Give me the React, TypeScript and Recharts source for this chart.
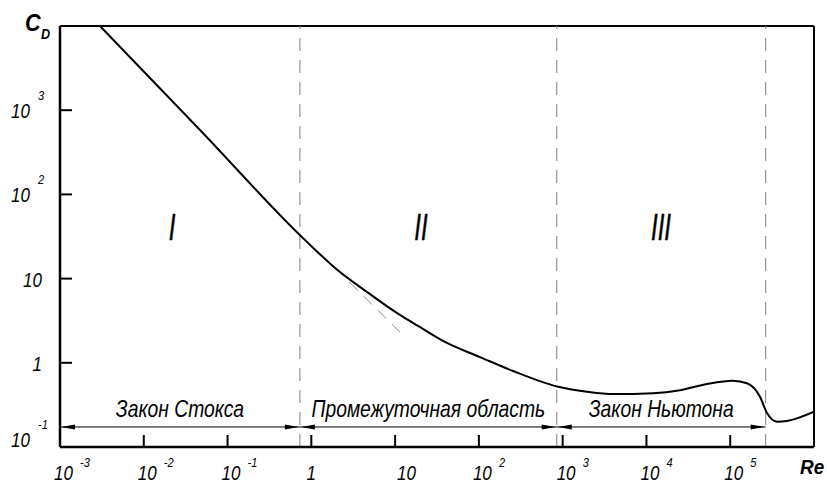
import React from 'react';
import { LineChart, Line, XAxis, YAxis, ReferenceLine, ReferenceDot } from 'recharts';

// Drag coefficient curve C_D(Re)
const RE = [0.003, 0.0469, 0.84, 1.92, 4.62, 11.4, 18.8, 41.6, 103, 255, 855, 1950, 3990, 11970, 25140, 52800, 107900, 158500, 226600, 274800, 361500, 475900, 1000000];
const CD = [10000, 582, 28.7, 13.4, 6.93, 3.7, 2.74, 1.72, 1.17, 0.8, 0.523, 0.454, 0.426, 0.436, 0.472, 0.56, 0.613, 0.571, 0.396, 0.253, 0.2, 0.204, 0.263];

// Stokes law continued into zone II (dashed)
const ASYM_RE = [1.92, 11.4];
const ASYM_CD = [13.4, 2.32];

const X_TICKS = [1e-3, 1e-2, 1e-1, 1, 10, 100, 1e3, 1e4, 1e5];
const Y_TICKS = [0.1, 1, 10, 100, 1000];

// zone boundaries on Re
const BOUNDS = [1e-3, 0.73, 850, 265000];
const ZONE_NAMES = ['Закон Стокса', 'Промежуточная область', 'Закон Ньютона'];
const ZONE_NUMS = ['I', 'II', 'III'];
const NUM_RE = [0.0217, 20.4, 14920];
const NUM_CD = 41;
const ARROW_CD = 0.173;

const curve = RE.map((re, i) => ({ re, cd: CD[i] }));
const asym = ASYM_RE.map((re, i) => ({ re, cd: ASYM_CD[i] }));

const FONT = '"Liberation Sans", Arial, sans-serif';

const expOf = (v: number) => Math.round(Math.log10(v));

// condensed italic text, like the narrow font of the original drawing
const NText = ({ x, y, size, sx = 0.85, anchor = 'start', bold = false, children }: any) => (
    <text
        transform={`translate(${x},${y}) scale(${sx},1)`}
        textAnchor={anchor}
        fontSize={size}
        fontStyle="italic"
        fontWeight={bold ? 'bold' : 'normal'}
        fontFamily={FONT}
        fill="#000"
    >
        {children}
    </text>
);

const XTick = (props: any) => {
    const { x, y, payload } = props;
    const e = expOf(payload.value);
    let label;
    if (e === 0) {
        label = <NText x={x} y={y + 33} size={20} anchor="middle">1</NText>;
    } else if (e === 1) {
        label = <NText x={x + 2} y={y + 33} size={20}>10</NText>;
    } else {
        label = (
            <>
                <NText x={x - 6} y={y + 33} size={20}>10</NText>
                <NText x={x + 20} y={y + 20} size={13}>{e}</NText>
            </>
        );
    }
    return (
        <g>
            {e !== -3 && <line x1={x} y1={y} x2={x} y2={y - 12} stroke="#000" strokeWidth={2} />}
            {label}
        </g>
    );
};

const YTick = (props: any) => {
    const { x, y, payload } = props;
    const e = expOf(payload.value);
    const shift = e === -1 ? -8 : 0;
    let label;
    if (e === 0 || e === 1) {
        label = <NText x={x - 18} y={y + 8} size={20} anchor="end">{e === 0 ? '1' : '10'}</NText>;
    } else {
        label = (
            <>
                <NText x={x - 49} y={y + 8 + shift} size={20}>10</NText>
                <NText x={x - 22} y={y - 10 + shift} size={13}>{e}</NText>
            </>
        );
    }
    return (
        <g>
            {e !== -1 && <line x1={x} y1={y} x2={x + 12} y2={y} stroke="#000" strokeWidth={2} />}
            {label}
        </g>
    );
};

const arrowShape = (text: string) => (p: any) => {
    const { x1, y1, x2 } = p;
    const L = 15, W = 2.5;
    return (
        <g>
            <line x1={x1} y1={y1} x2={x2} y2={y1} stroke="#000" strokeWidth={1} />
            <polygon points={`${x1 + 1},${y1} ${x1 + L},${y1 - W} ${x1 + L},${y1 + W}`} fill="#000" />
            <polygon points={`${x2 - 1},${y1} ${x2 - L},${y1 - W} ${x2 - L},${y1 + W}`} fill="#000" />
            <NText x={(x1 + x2) / 2} y={y1 - 10} size={23} sx={0.84} anchor="middle">{text}</NText>
        </g>
    );
};

const numShape = (text: string) => (p: any) => (
    <g transform={`translate(${p.cx},${p.cy}) scale(0.65,1)`}>
        <text x={0} y={13} textAnchor="middle" fontSize={37} fontStyle="italic" fontFamily={FONT} fill="#000" stroke="#000" strokeWidth={0.5}>{text}</text>
    </g>
);

const CdLabel = (p: any) => {
    const vb = p.viewBox || { x: 0, y: 26 };
    return (
        <g>
            <NText x={vb.x + 25} y={vb.y + 5} size={24} sx={0.9} bold>C</NText>
            <NText x={vb.x + 41} y={vb.y + 13} size={14} sx={0.9} bold>D</NText>
        </g>
    );
};

const ReLabel = (p: any) => {
    const vb = p.viewBox || { x: 60, y: 447, width: 754 };
    return <NText x={vb.x + vb.width - 14} y={vb.y + 27} size={21} sx={0.9} bold>Re</NText>;
};

export default function App() {
    return (
        <div style={{ position: 'absolute', left: 0, top: 0, width: 827, height: 483, background: '#fff' }}>
            <LineChart width={827} height={483} margin={{ top: 26, right: 13, bottom: 0, left: 0 }}>
                <XAxis
                    dataKey="re"
                    type="number"
                    scale="log"
                    domain={[1e-3, 1e6]}
                    ticks={X_TICKS}
                    interval={0}
                    allowDataOverflow
                    tickSize={0}
                    tickMargin={0}
                    tickLine={false}
                    axisLine={{ stroke: '#000', strokeWidth: 2.5 }}
                    height={36}
                    tick={<XTick />}
                    label={{ content: <ReLabel /> }}
                />
                <YAxis
                    dataKey="cd"
                    type="number"
                    scale="log"
                    domain={[0.1, 1e4]}
                    ticks={Y_TICKS}
                    interval={0}
                    allowDataOverflow
                    tickSize={0}
                    tickMargin={0}
                    tickLine={false}
                    axisLine={{ stroke: '#000', strokeWidth: 2.5 }}
                    width={60}
                    tick={<YTick />}
                    label={{ content: <CdLabel /> }}
                />

                {/* frame */}
                <ReferenceLine y={1e4} stroke="#000" strokeWidth={2} />
                <ReferenceLine x={1e6} stroke="#000" strokeWidth={2} />

                {/* zone boundaries */}
                {BOUNDS.slice(1).map((b) => (
                    <ReferenceLine key={`b-${b}`} x={b} stroke="#808080" strokeWidth={1} strokeDasharray="13 9" />
                ))}

                {/* zone arrows and names */}
                {ZONE_NAMES.map((name, i) => (
                    <ReferenceLine
                        key={`z-${i}`}
                        segment={[{ x: BOUNDS[i], y: ARROW_CD }, { x: BOUNDS[i + 1], y: ARROW_CD }]}
                        shape={arrowShape(name)}
                    />
                ))}

                {ZONE_NUMS.map((n, i) => (
                    <ReferenceDot key={`n-${i}`} x={NUM_RE[i]} y={NUM_CD} r={0} shape={numShape(n)} />
                ))}

                <Line
                    data={asym}
                    dataKey="cd"
                    type="linear"
                    stroke="#8a8a8a"
                    strokeWidth={1}
                    strokeDasharray="12 8"
                    dot={false}
                    isAnimationActive={false}
                />
                <Line
                    data={curve}
                    dataKey="cd"
                    type="monotone"
                    stroke="#000"
                    strokeWidth={2}
                    dot={false}
                    isAnimationActive={false}
                />
            </LineChart>
        </div>
    );
}
